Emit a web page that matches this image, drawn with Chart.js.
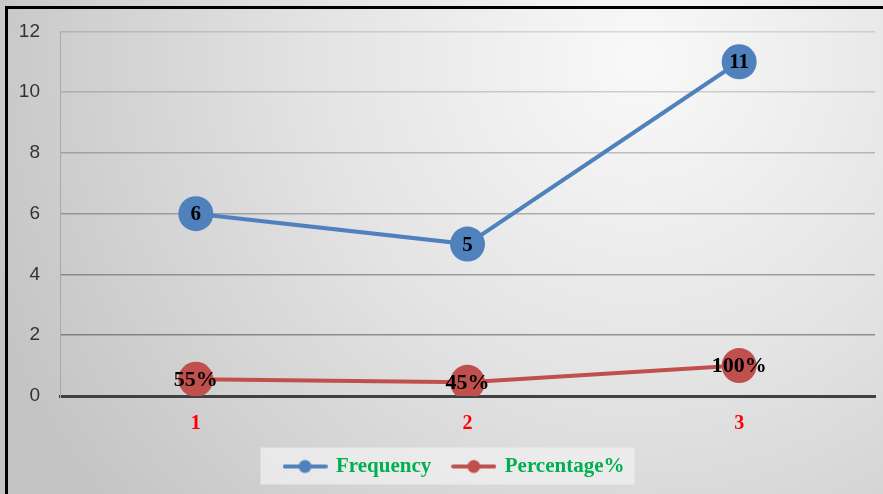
<!DOCTYPE html>
<html>
<head>
<meta charset="utf-8">
<script src="https://cdn.jsdelivr.net/npm/chart.js@4.4.1/dist/chart.umd.min.js"></script>
<style>
  html, body { margin: 0; padding: 0; background: #fff; }
  canvas { display: block; }
</style>
</head>
<body>
<canvas id="myChart" width="883" height="494"></canvas>
<script>
const categories = ['1', '2', '3'];
const frequency = [6, 5, 11];
const percentages = [55, 45, 100];
const seriesNames = ['Frequency', 'Percentage%'];
const yTicks = [0, 2, 4, 6, 8, 10, 12];

const BLUE = '#4f81bd';
const RED = '#c0504d';

function legendMarker(color) {
  const c = document.createElement('canvas');
  c.width = 45;
  c.height = 16;
  const g = c.getContext('2d');
  g.strokeStyle = color;
  g.lineWidth = 4;
  g.lineCap = 'round';
  g.beginPath();
  g.moveTo(2, 8);
  g.lineTo(43, 8);
  g.stroke();
  g.fillStyle = color;
  g.beginPath();
  g.arc(22.5, 8, 6.5, 0, Math.PI * 2);
  g.fill();
  return c;
}

// background gradient, legend panel and the black frame
const backdrop = {
  id: 'backdrop',
  afterLayout(chart) {
    // the legend sits a little right of centre in the original
    chart.legend.left += 7;
    chart.legend.right += 7;
  },
  beforeDraw(chart) {
    const { ctx, width, height } = chart;
    ctx.save();
    const grad = ctx.createRadialGradient(640, 60, 0, 640, 60, 700);
    grad.addColorStop(0, '#f9f9f9');
    grad.addColorStop(0.45, '#e4e4e4');
    grad.addColorStop(1, '#c4c4c4');
    ctx.fillStyle = grad;
    ctx.fillRect(0, 0, width, height);

    const boxes = chart.legend && chart.legend.legendHitBoxes;
    if (boxes && boxes.length) {
      const first = boxes[0];
      const last = boxes[boxes.length - 1];
      const cy = first.top + first.height / 2;
      ctx.fillStyle = 'rgba(240, 240, 240, 0.75)';
      ctx.fillRect(first.left - 24, cy - 19, last.left + last.width - first.left + 34, 37);
    }
    ctx.restore();
  },
  afterDraw(chart) {
    const { ctx, width, height } = chart;
    ctx.save();
    ctx.fillStyle = '#000';
    ctx.fillRect(5, 6, width - 5, 3);
    ctx.fillRect(5, 6, 3, height - 6);
    ctx.restore();
  }
};

const valueLabels = {
  id: 'valueLabels',
  afterDatasetsDraw(chart) {
    const { ctx } = chart;
    ctx.save();
    ctx.fillStyle = '#000';
    ctx.textAlign = 'center';
    ctx.textBaseline = 'middle';
    chart.data.datasets.forEach((ds, i) => {
      ctx.font = 'bold ' + ds.valueSize + 'px "Liberation Serif"';
      chart.getDatasetMeta(i).data.forEach((pt, j) => {
        ctx.fillText(ds.valueText[j], pt.x, pt.y + 1);
      });
    });
    ctx.restore();
  }
};

new Chart(document.getElementById('myChart'), {
  type: 'line',
  data: {
    labels: categories,
    datasets: [{
      label: seriesNames[0],
      data: frequency,
      valueText: frequency.map(v => String(v)),
      valueSize: 21,
      borderColor: BLUE,
      backgroundColor: BLUE,
      borderWidth: 4,
      pointRadius: 17.5,
      pointBorderWidth: 0,
      pointBackgroundColor: BLUE,
      tension: 0
    }, {
      label: seriesNames[1],
      data: percentages.map(p => p / 100),
      valueText: percentages.map(p => p + '%'),
      valueSize: 22,
      borderColor: RED,
      backgroundColor: RED,
      borderWidth: 4,
      pointRadius: 17.5,
      pointBorderWidth: 0,
      pointBackgroundColor: RED,
      tension: 0
    }]
  },
  options: {
    responsive: false,
    animation: false,
    devicePixelRatio: 1,
    layout: {
      autoPadding: false,
      padding: { left: 20, top: 29, right: 8, bottom: 7 }
    },
    scales: {
      x: {
        offset: true,
        grid: { display: false, drawTicks: false },
        border: { display: true, color: '#404040', width: 3 },
        ticks: {
          color: '#ff0000',
          font: { family: 'Liberation Serif', size: 20, weight: 'bold' },
          padding: 16
        },
        afterFit(scale) { scale.height = 38; }
      },
      y: {
        min: 0,
        max: 12,
        afterBuildTicks(scale) { scale.ticks = yTicks.map(v => ({ value: v })); },
        grid: {
          drawTicks: false,
          color: c => c.tick && c.tick.value === 0 ? '#404040'
            : 'rgba(0,0,0,' + (0.12 + 0.05 * (12 - c.tick.value) / 2).toFixed(2) + ')',
          lineWidth: c => c.tick && c.tick.value === 0 ? 3 : 1.5
        },
        border: { display: true, color: '#a8a8a8', width: 1 },
        ticks: {
          color: '#333333',
          font: { family: 'Liberation Sans', size: 19 },
          padding: 20
        },
        afterFit(scale) { scale.width = 40; }
      }
    },
    plugins: {
      legend: {
        position: 'bottom',
        labels: {
          usePointStyle: true,
          pointStyleWidth: 41,
          padding: 22,
          color: '#00b050',
          font: { family: 'Liberation Serif', size: 21, weight: 'bold' },
          generateLabels(chart) {
            return chart.data.datasets.map((ds, i) => ({
              text: ds.label,
              fontColor: '#00b050',
              pointStyle: legendMarker(ds.borderColor),
              lineWidth: 0,
              strokeStyle: ds.borderColor,
              fillStyle: ds.borderColor,
              hidden: false,
              datasetIndex: i
            }));
          }
        }
      },
      tooltip: { enabled: false }
    }
  },
  plugins: [backdrop, valueLabels]
});
</script>
</body>
</html>
